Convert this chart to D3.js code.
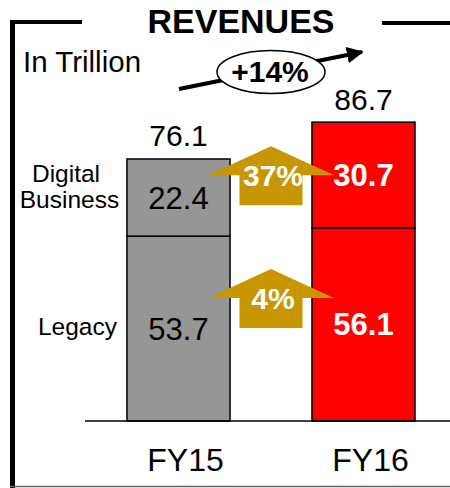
<!DOCTYPE html>
<html>
<head>
<meta charset="utf-8">
<script src="https://cdn.jsdelivr.net/npm/d3@7"></script>
<style>
  body { margin: 0; background: #fff; }
  svg { display: block; font-family: Arial, "Liberation Sans", sans-serif; }
</style>
</head>
<body>
<svg id="chart" width="450" height="488"></svg>
<script>
// data
const years = ["FY15", "FY16"];
const legacy = [53.7, 56.1];
const digital = [22.4, 30.7];
const totals = [76.1, 86.7];
const growthLabels = ["4%", "37%"];
const growthLevels = [35.7, 71.4]; // where each growth arrow's wings sit, in trillion
const segmentNames = ["Legacy", "Digital Business"];
const barColors = ["#969696", "#fe0000"];
const textColors = ["#000", "#fff"];

const svg = d3.select("#chart");

const x = d3.scaleBand().domain(years).range([34.5, 507.5]).paddingInner(0.443).paddingOuter(0.5);
const y = d3.scaleLinear().domain([0, 100]).range([421, 76.7]);

// frame
svg.append("line").attr("x1", 10).attr("x2", 82).attr("y1", 22).attr("y2", 22)
  .attr("stroke", "#000").attr("stroke-width", 4);
svg.append("line").attr("x1", 382).attr("x2", 450).attr("y1", 23).attr("y2", 23)
  .attr("stroke", "#000").attr("stroke-width", 4);
svg.append("line").attr("x1", 12.5).attr("x2", 12.5).attr("y1", 20).attr("y2", 488)
  .attr("stroke", "#000").attr("stroke-width", 5);
svg.append("line").attr("x1", 10).attr("x2", 450).attr("y1", 486.5).attr("y2", 486.5)
  .attr("stroke", "#666").attr("stroke-width", 1.5);

svg.append("text").attr("x", 241).attr("y", 33).attr("text-anchor", "middle")
  .attr("font-size", 34).attr("font-weight", "bold").text("REVENUES");
svg.append("text").attr("x", 23).attr("y", 72)
  .attr("font-size", 29.5).text("In Trillion");

// stacked bars
const stack = years.map((yr, i) => ({
  year: yr, i: i,
  segs: [
    { y0: 0, y1: legacy[i], v: legacy[i] },
    { y0: legacy[i], y1: legacy[i] + digital[i], v: digital[i] }
  ]
}));

const g = svg.append("g");
stack.forEach((d) => {
  d.segs.forEach((s) => {
    g.append("rect")
      .attr("x", x(d.year))
      .attr("y", y(s.y1))
      .attr("width", x.bandwidth())
      .attr("height", y(s.y0) - y(s.y1))
      .attr("fill", barColors[d.i])
      .attr("stroke", "#000").attr("stroke-width", 1.5);
    g.append("text")
      .attr("x", x(d.year) + x.bandwidth() / 2)
      .attr("y", y((s.y0 + s.y1) / 2) + 11)
      .attr("text-anchor", "middle")
      .attr("font-size", 31)
      .attr("font-weight", d.i === 1 ? "bold" : "normal")
      .attr("fill", textColors[d.i])
      .text(s.v.toFixed(1));
  });
  g.append("text")
    .attr("x", x(d.year) + x.bandwidth() / 2)
    .attr("y", y(totals[d.i]) - 12.5)
    .attr("text-anchor", "middle").attr("font-size", 30)
    .text(totals[d.i].toFixed(1));
  g.append("text")
    .attr("x", x(d.year) + x.bandwidth() / 2 + 7)
    .attr("y", 471)
    .attr("text-anchor", "middle").attr("font-size", 32)
    .text(d.year);
});

// baseline
svg.append("line").attr("x1", 85).attr("x2", 450).attr("y1", y(0)).attr("y2", y(0))
  .attr("stroke", "#000").attr("stroke-width", 1.5);

// segment labels
svg.append("text").attr("x", 117).attr("y", y(legacy[0] / 2) + 6)
  .attr("text-anchor", "end").attr("font-size", 24.5).text(segmentNames[0]);
const dl = svg.append("text").attr("text-anchor", "middle").attr("font-size", 24.5);
dl.append("tspan").attr("x", 66).attr("y", 182).text("Digital");
dl.append("tspan").attr("x", 69.5).attr("y", 208).text("Business");

// growth arrows
const cx = (x(years[0]) + x.bandwidth() + x(years[1])) / 2;
growthLevels.forEach((lv, i) => {
  const wy = y(lv);
  const pts = [
    [cx, wy - 29], [cx + 63, wy], [cx + 31.5, wy], [cx + 31.5, wy + 30],
    [cx - 31.5, wy + 30], [cx - 31.5, wy], [cx - 63, wy]
  ];
  svg.append("polygon").attr("points", pts.map((p) => p.join(",")).join(" "))
    .attr("fill", "#c89600");
  svg.append("text").attr("x", cx + 2).attr("y", wy + 11)
    .attr("text-anchor", "middle").attr("font-size", 30).attr("font-weight", "bold")
    .attr("fill", "#fff").text(growthLabels[i]);
});

// total growth arrow
svg.append("defs").append("marker").attr("id", "head")
  .attr("viewBox", "0 0 10 10").attr("refX", 9).attr("refY", 5)
  .attr("markerWidth", 4.2).attr("markerHeight", 4.2).attr("orient", "auto")
  .append("path").attr("d", "M0,0 L10,5 L0,10 Z").attr("fill", "#000");
svg.append("line").attr("x1", 179).attr("y1", 89).attr("x2", 362).attr("y2", 52)
  .attr("stroke", "#000").attr("stroke-width", 4).attr("marker-end", "url(#head)");
svg.append("ellipse").attr("cx", 271).attr("cy", 72).attr("rx", 54).attr("ry", 21.5)
  .attr("fill", "#fff").attr("stroke", "#000").attr("stroke-width", 1.5);
svg.append("text").attr("x", 270).attr("y", 82).attr("text-anchor", "middle")
  .attr("font-size", 30).attr("font-weight", "bold").text("+14%");
</script>
</body>
</html>
